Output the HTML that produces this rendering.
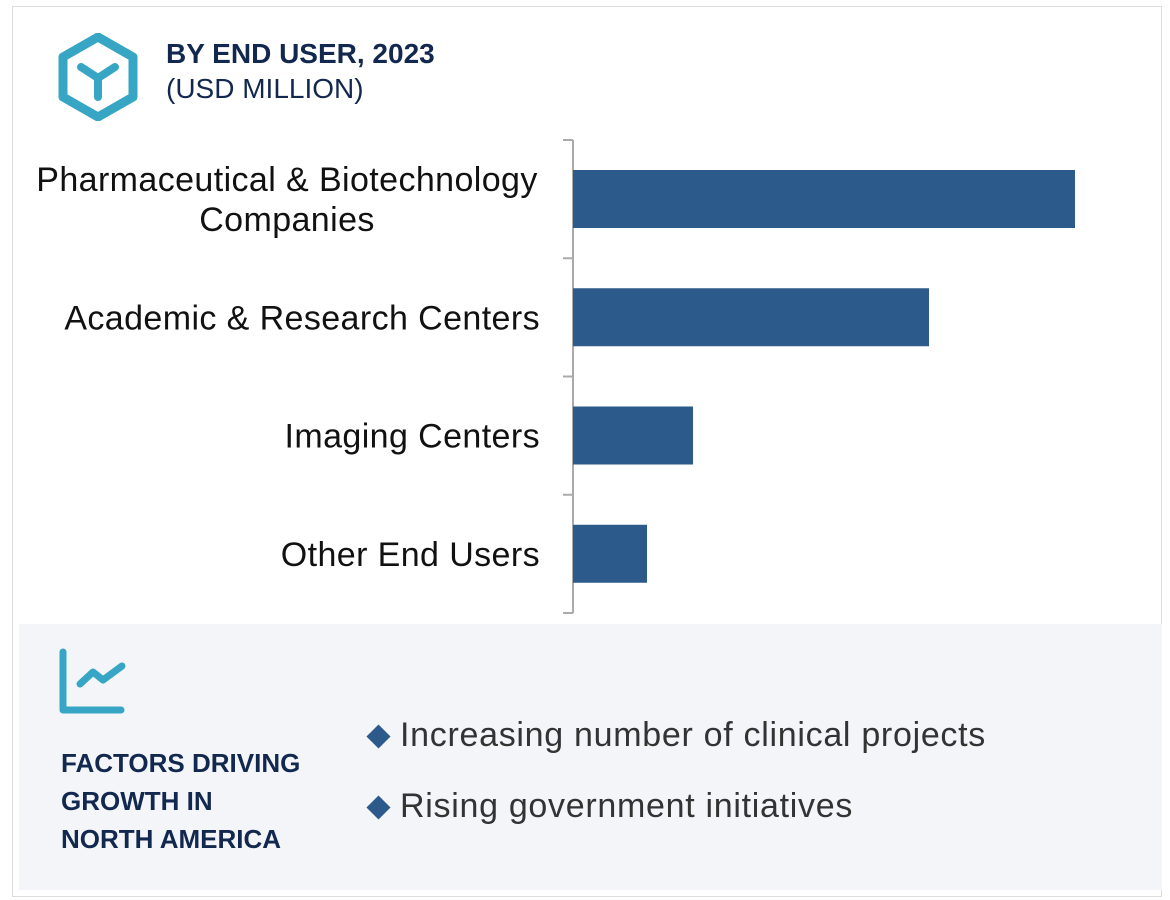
<!DOCTYPE html>
<html><head><meta charset="utf-8"><style>
body{margin:0;width:1170px;height:900px;background:#fff;font-family:"Liberation Sans",sans-serif;overflow:hidden;position:relative}
.frame{position:absolute;left:12px;top:6px;width:1150px;height:891px;border:1px solid #dcdcdc;box-sizing:border-box}
.panel{position:absolute;left:19px;top:624px;width:1143px;height:266px;background:#f3f5f9}
.t1{position:absolute;left:166px;top:38px;font-size:28px;font-weight:bold;color:#13284f}
.t2{position:absolute;left:166px;top:73px;font-size:28px;color:#13284f}
.f{position:absolute;left:61px;top:744px;font-size:26px;font-weight:bold;color:#13284f;line-height:38px}
.b{position:absolute;left:400px;font-size:34px;letter-spacing:0.7px;color:#333}
.d{position:absolute;left:370px;width:17px;height:17px;background:#2c5a8a;transform:rotate(45deg)}
</style></head><body>
<div class="frame"></div>
<svg style="position:absolute;left:58px;top:33px" width="80" height="88">
<polygon points="40,4 75,24 75,64 40,84 5,64 5,24" fill="none" stroke="#37a6c4" stroke-width="9" stroke-linejoin="round"/>
<path d="M23,34 L40,45 L57,34 M40,45 L40,64" fill="none" stroke="#37a6c4" stroke-width="8" stroke-linecap="round"/>
</svg>
<div class="t1">BY END USER, 2023</div>
<div class="t2">(USD MILLION)</div>
<svg id="chart" style="position:absolute;left:0;top:0" width="1170" height="620"></svg>
<div class="panel"></div>
<svg style="position:absolute;left:58px;top:648px" width="72" height="70">
<path d="M5,4 L5,62 L63,62" fill="none" stroke="#37a6c4" stroke-width="7" stroke-linecap="round" stroke-linejoin="round"/>
<path d="M22,36 L35,24 L45,32 L64,18" fill="none" stroke="#37a6c4" stroke-width="7" stroke-linecap="round" stroke-linejoin="round"/>
</svg>
<div class="f">FACTORS DRIVING<br>GROWTH IN<br>NORTH AMERICA</div>
<div class="d" style="top:728px"></div>
<div class="b" style="top:716px">Increasing number of clinical projects</div>
<div class="d" style="top:799px"></div>
<div class="b" style="top:787px">Rising government initiatives</div>
<script>
const categories=[["Pharmaceutical & Biotechnology","Companies"],["Academic & Research Centers"],["Imaging Centers"],["Other End Users"]];
const values=[502,356,120,74];
const NS="http://www.w3.org/2000/svg";
const svg=document.getElementById('chart');
const x0=573,yTop=140,band=118.25;
const xScale=v=>x0+v*1;
const yScale=i=>yTop+i*band;
function mk(t,a){const e=document.createElementNS(NS,t);for(const k in a)e.setAttribute(k,a[k]);svg.appendChild(e);return e;}
const ax=mk('line',{x1:x0,y1:yTop,x2:x0,y2:yScale(categories.length),stroke:'#aaa','stroke-width':2});


for(let i=0;i<=categories.length;i++){
 const tk=mk('line',{x1:x0-10,y1:yScale(i),x2:x0,y2:yScale(i),stroke:'#aaa','stroke-width':2});
 
 
}
categories.forEach((c,i)=>{
 const r=mk('rect',{x:x0,y:yScale(i)+30,width:xScale(values[i])-x0,height:58,fill:'#2c5a8a'});
 
 
 const cy=yScale(i)+band/2;
 const multi=c.length>1;
 c.forEach((line,j)=>{
  const t=mk('text',{x:multi?287:540,y:cy+12+(j-(c.length-1)/2)*40,'text-anchor':multi?'middle':'end','font-size':34,'letter-spacing':0.4,fill:'#111','font-family':'Liberation Sans, sans-serif'});
  t.textContent=line;
  
  
 });
});
</script>
</body></html>
